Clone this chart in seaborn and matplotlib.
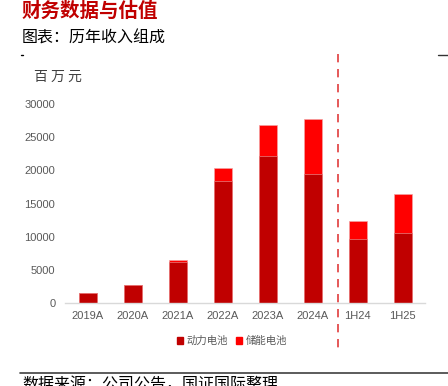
import matplotlib
matplotlib.use("Agg")
import matplotlib.pyplot as plt
import seaborn as sns
import pandas as pd
from matplotlib.patches import Patch
from matplotlib.lines import Line2D

sns.set_theme(style="white")
plt.rcParams['font.family'] = ['Noto Sans CJK SC', 'DejaVu Sans']

categories = ["2019A", "2020A", "2021A", "2022A", "2023A", "2024A", "1H24", "1H25"]
power = [1550, 2700, 6250, 18400, 22200, 19450, 9700, 10600]
storage = [0, 0, 230, 1900, 4700, 8250, 2700, 5800]
series_names = ["动力电池", "储能电池"]
yticks = [0, 5000, 10000, 15000, 20000, 25000, 30000]

c_power = "#C00000"
c_storage = "#FF0000"

total = [p + s for p, s in zip(power, storage)]
df_total = pd.DataFrame({"cat": categories, "v": total})
df_power = pd.DataFrame({"cat": categories, "v": power})

fig = plt.figure(figsize=(4.48, 3.86), dpi=100)
ax = fig.add_axes([65/448, 1-303/386, 360/448, 199/386])

sns.barplot(data=df_total, x="cat", y="v", color=c_storage, saturation=1,
            width=0.4, ax=ax, edgecolor="#F4A0A0", linewidth=0.5)
sns.barplot(data=df_power, x="cat", y="v", color=c_power, saturation=1,
            width=0.4, ax=ax, edgecolor="#E88080", linewidth=0.5)

ax.set_xlim(-0.5, len(categories) - 0.5)
ax.set_ylim(0, 30000)
ax.set_yticks(yticks)
ax.set_yticklabels([str(v) for v in yticks])
ax.set_xlabel("")
ax.set_ylabel("")
for s in ["top", "right", "left"]:
    ax.spines[s].set_visible(False)
ax.spines["bottom"].set_color("#D9D9D9")
ax.spines["bottom"].set_linewidth(1)
ax.tick_params(axis="both", length=0, colors="#595959", labelsize=8)
ax.tick_params(axis="y", pad=7)
ax.tick_params(axis="x", pad=6)
for lab in ax.get_xticklabels() + ax.get_yticklabels():
    lab.set_family(['Liberation Sans Narrow', 'Liberation Sans', 'DejaVu Sans'])
ax.grid(False)

# dashed separator
ax.plot([5.57, 5.57], [1.25, -0.25], transform=ax.get_xaxis_transform(),
        color="#E03C3C", linestyle=(0, (5, 4)), linewidth=1.2, clip_on=False)

# unit label
fig.text(58/448, 1-77/386, "百 万 元", ha="center", va="center",
         fontsize=10, color="#404040")

# legend
handles = [Patch(facecolor=c_power, edgecolor=c_power),
           Patch(facecolor=c_storage, edgecolor=c_storage)]
leg = fig.legend(handles, series_names, loc="center", bbox_to_anchor=(232/448, 1-341/386),
                 ncol=2, frameon=False, fontsize=7.5, handlelength=0.6, handleheight=0.6,
                 handletextpad=0.3, columnspacing=0.8)
for t in leg.get_texts():
    t.set_color("#595959")

# titles
fig.text(22/448, 1-11/386, "财务数据与估值", ha="left", va="center",
         fontsize=14, fontweight="bold", color="#C00000")
fig.text(22/448, 1-38/386, "图表：历年收入组成", ha="left", va="center",
         fontsize=11.5, color="#000000")

# frame marks
fig.add_artist(Line2D([21/448, 23/448], [1-55/386, 1-55/386], color="#000000", lw=1))
fig.add_artist(Line2D([438/448, 448/448], [1-55/386, 1-55/386], color="#333333", lw=1))
fig.add_artist(Line2D([20/448, 448/448], [1-373/386, 1-373/386], color="#404040", lw=1.2))

# source (cut off at bottom edge, as in the reference)
fig.text(22/448, 1-385/386, "数据来源：公司公告，国证国际整理", ha="left", va="center",
         fontsize=11.5, color="#000000")

fig.savefig("out.png", dpi=100)
